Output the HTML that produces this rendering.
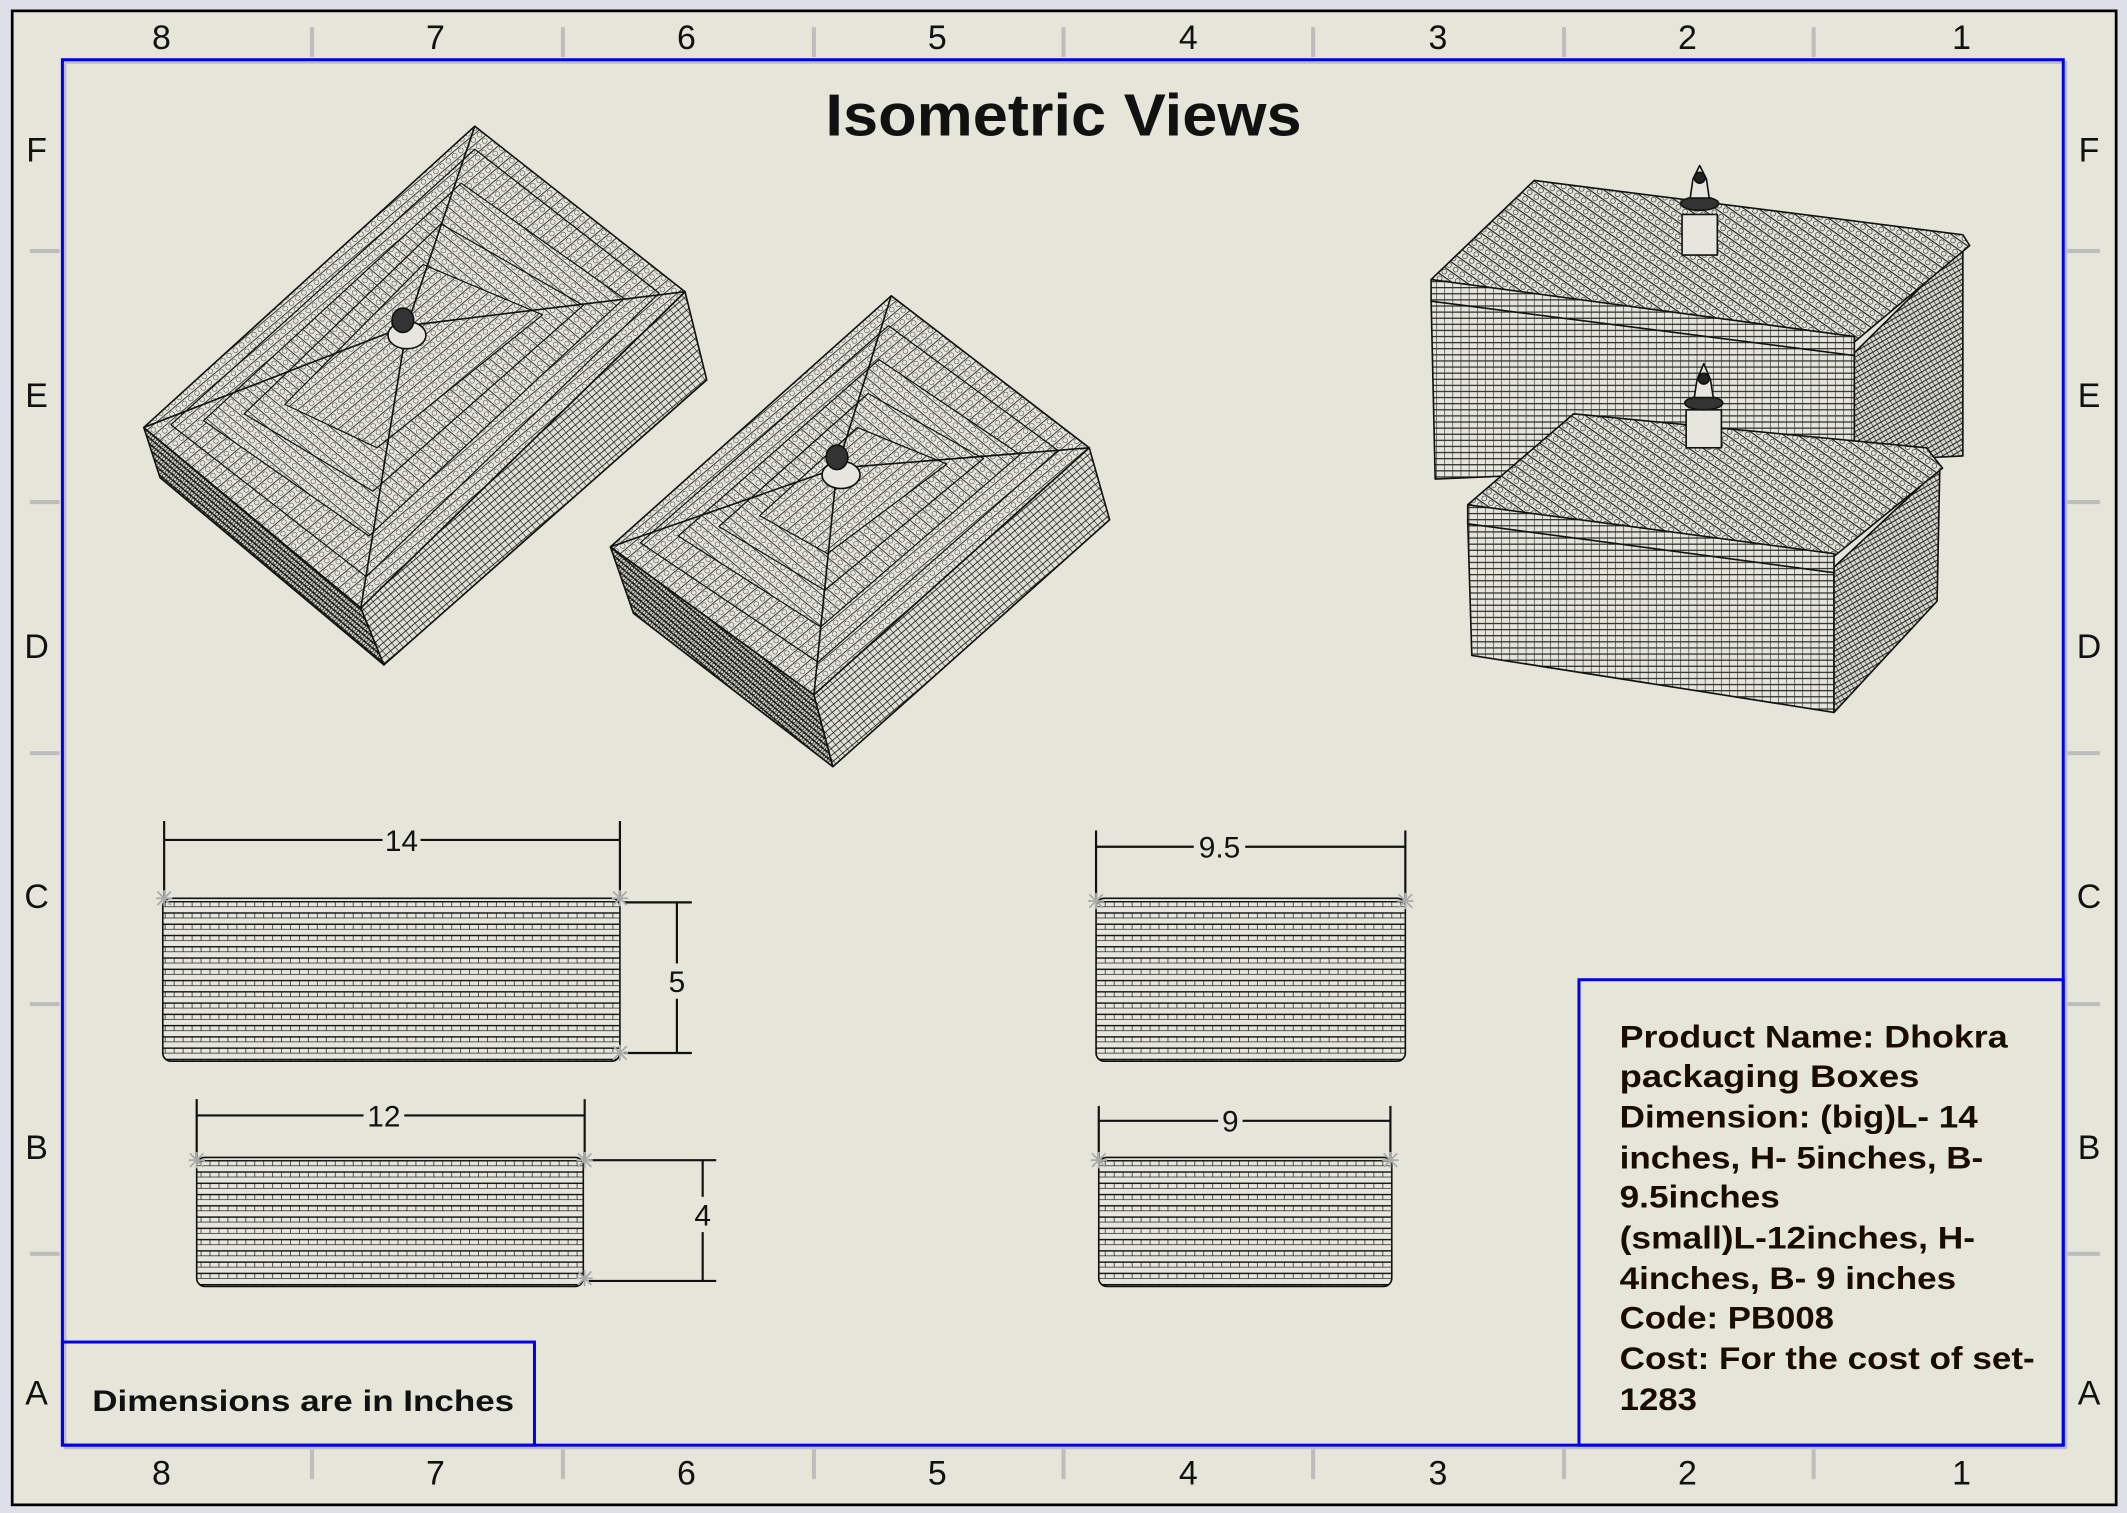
<!DOCTYPE html>
<html><head><meta charset="utf-8"><style>
html,body{margin:0;padding:0;background:#dde0e8;}
svg{display:block;}
text{font-family:"Liberation Sans",sans-serif;}
</style></head><body>
<svg width="2127" height="1513" viewBox="0 0 1568 1115" preserveAspectRatio="none" xmlns="http://www.w3.org/2000/svg">
<defs>
<pattern id="hz" width="6.6" height="8.3" patternUnits="userSpaceOnUse">
<rect width="6.6" height="8.3" fill="#e6e6dc"/>
<line x1="0" y1="0.5" x2="6.6" y2="0.5" stroke="#111" stroke-width="1.1"/>
<line x1="0" y1="4.2" x2="6.6" y2="4.2" stroke="#111" stroke-width="0.5"/>
<line x1="3" y1="0" x2="3" y2="4.2" stroke="#111" stroke-width="0.5"/>
</pattern>
<pattern id="lidA" width="6" height="6" patternUnits="userSpaceOnUse" patternTransform="rotate(-40)">
<rect width="6" height="6" fill="#e6e6dc"/>
<line x1="0" y1="0.5" x2="6" y2="0.5" stroke="#111" stroke-width="0.6"/>
<circle cx="3" cy="3.3" r="1.8" fill="none" stroke="#111" stroke-width="0.35"/>
</pattern>
<pattern id="lidB" width="6" height="6" patternUnits="userSpaceOnUse" patternTransform="rotate(40)">
<rect width="6" height="6" fill="#e6e6dc"/>
<line x1="0" y1="0.5" x2="6" y2="0.5" stroke="#111" stroke-width="0.6"/>
<circle cx="3" cy="3.3" r="1.8" fill="none" stroke="#111" stroke-width="0.35"/>
</pattern>
<pattern id="sideA" width="4.5" height="4" patternUnits="userSpaceOnUse" patternTransform="rotate(-40)">
<rect width="4.5" height="4" fill="#e0e0d6"/>
<line x1="0" y1="0.5" x2="4.5" y2="0.5" stroke="#111" stroke-width="0.6"/>
<line x1="2.2" y1="0" x2="2.2" y2="4" stroke="#111" stroke-width="0.4"/>
</pattern>
<pattern id="sideB" width="4" height="3.2" patternUnits="userSpaceOnUse" patternTransform="rotate(40)">
<rect width="4" height="3.2" fill="#d4d4ca"/>
<line x1="0" y1="0.5" x2="4" y2="0.5" stroke="#111" stroke-width="0.9"/>
<circle cx="2" cy="2" r="1.2" fill="none" stroke="#111" stroke-width="0.5"/>
</pattern>
<pattern id="wall" width="6" height="4.5" patternUnits="userSpaceOnUse">
<rect width="6" height="4.5" fill="#e4e4da"/>
<line x1="0" y1="0.5" x2="6" y2="0.5" stroke="#111" stroke-width="0.8"/>
<line x1="3" y1="0.5" x2="3" y2="4.5" stroke="#111" stroke-width="0.4"/>
</pattern>
<pattern id="wallR" width="3.4" height="3.4" patternUnits="userSpaceOnUse" patternTransform="rotate(-30)">
<rect width="3.4" height="3.4" fill="#d6d6cc"/>
<line x1="0" y1="0.5" x2="3.4" y2="0.5" stroke="#111" stroke-width="0.7"/>
<line x1="1.7" y1="0" x2="1.7" y2="3.4" stroke="#111" stroke-width="0.4"/>
</pattern>
<pattern id="lidR" width="6" height="6" patternUnits="userSpaceOnUse" patternTransform="rotate(35)">
<rect width="6" height="6" fill="#e4e4da"/>
<line x1="0" y1="0.5" x2="6" y2="0.5" stroke="#111" stroke-width="0.8"/>
<circle cx="3" cy="3.3" r="1.8" fill="none" stroke="#111" stroke-width="0.4"/>
</pattern>
</defs>

<rect x="0" y="0" width="1568" height="1115" fill="#dde0e8"/>
<rect x="9" y="8" width="1551" height="1101" fill="#e5e5da" stroke="#000" stroke-width="2"/>
<g stroke="#bdbdbd" stroke-width="3">
<line x1="230" y1="20" x2="230" y2="42"/><line x1="415" y1="20" x2="415" y2="42"/><line x1="600" y1="20" x2="600" y2="42"/><line x1="784" y1="20" x2="784" y2="42"/><line x1="968" y1="20" x2="968" y2="42"/><line x1="1153" y1="20" x2="1153" y2="42"/><line x1="1337" y1="20" x2="1337" y2="42"/>
<line x1="230" y1="1068" x2="230" y2="1090"/><line x1="415" y1="1068" x2="415" y2="1090"/><line x1="600" y1="1068" x2="600" y2="1090"/><line x1="784" y1="1068" x2="784" y2="1090"/><line x1="968" y1="1068" x2="968" y2="1090"/><line x1="1153" y1="1068" x2="1153" y2="1090"/><line x1="1337" y1="1068" x2="1337" y2="1090"/>
<line x1="22" y1="185" x2="44" y2="185"/><line x1="22" y1="370" x2="44" y2="370"/><line x1="22" y1="555" x2="44" y2="555"/><line x1="22" y1="740" x2="44" y2="740"/><line x1="22" y1="924" x2="44" y2="924"/>
<line x1="1524" y1="185" x2="1548" y2="185"/><line x1="1524" y1="370" x2="1548" y2="370"/><line x1="1524" y1="555" x2="1548" y2="555"/><line x1="1524" y1="740" x2="1548" y2="740"/><line x1="1524" y1="924" x2="1548" y2="924"/>
</g>
<g font-size="25" fill="#111" text-anchor="middle">
<text x="119" y="36">8</text><text x="321" y="36">7</text><text x="506" y="36">6</text><text x="691" y="36">5</text><text x="876" y="36">4</text><text x="1060" y="36">3</text><text x="1244" y="36">2</text><text x="1446" y="36">1</text>
<text x="119" y="1094">8</text><text x="321" y="1094">7</text><text x="506" y="1094">6</text><text x="691" y="1094">5</text><text x="876" y="1094">4</text><text x="1060" y="1094">3</text><text x="1244" y="1094">2</text><text x="1446" y="1094">1</text>
<text x="27" y="119">F</text><text x="27" y="300">E</text><text x="27" y="485">D</text><text x="27" y="669">C</text><text x="27" y="854">B</text><text x="27" y="1035">A</text>
<text x="1540" y="119">F</text><text x="1540" y="300">E</text><text x="1540" y="485">D</text><text x="1540" y="669">C</text><text x="1540" y="854">B</text><text x="1540" y="1035">A</text>
</g>
<rect x="48" y="46" width="1475" height="1021" fill="none" stroke="#bdbdbd" stroke-width="2"/>
<rect x="46" y="44" width="1475" height="1021" fill="none" stroke="#0000ee" stroke-width="2.2"/>

<text x="784" y="100" font-size="44" font-weight="bold" text-anchor="middle" fill="#111" textLength="351" lengthAdjust="spacingAndGlyphs">Isometric Views</text>

<g stroke="#111" stroke-width="1.2" stroke-linejoin="round">
<polygon points="106,315 266,448 283,490 118,352" fill="url(#sideB)"/>
<polygon points="266,448 505,215 521,280 283,490" fill="url(#sideA)"/>
<polygon points="350,93 505,215 266,448 106,315" fill="url(#lidA)"/>
<polygon points="350,110 486,216 270,425 126,313" fill="none" stroke-width="0.9"/>
<polygon points="340,135 460,220 272,395 150,310" fill="url(#lidB)" stroke-width="0.9"/>
<polygon points="325,165 430,225 275,362 180,305" fill="none" stroke-width="0.9"/>
<polygon points="312,195 400,232 278,330 210,298" fill="url(#lidA)" stroke-width="0.9"/>
<line x1="350" y1="93" x2="300" y2="240"/><line x1="505" y1="215" x2="300" y2="240"/><line x1="266" y1="448" x2="300" y2="240"/><line x1="106" y1="315" x2="300" y2="240"/>
<ellipse cx="300" cy="247" rx="14" ry="10" fill="#e6e6dc"/>
<ellipse cx="297" cy="236" rx="8" ry="9" fill="#333"/>
</g>
<g stroke="#111" stroke-width="1.2" stroke-linejoin="round">
<polygon points="450,403 600,512 614,565 467,452" fill="url(#sideB)"/>
<polygon points="600,512 803,330 818,383 614,565" fill="url(#sideA)"/>
<polygon points="657,218 803,330 600,512 450,403" fill="url(#lidA)"/>
<polygon points="655,240 780,332 603,488 472,400" fill="none" stroke-width="0.9"/>
<polygon points="648,265 752,335 605,462 500,395" fill="url(#lidB)" stroke-width="0.9"/>
<polygon points="640,290 725,338 608,435 530,388" fill="none" stroke-width="0.9"/>
<polygon points="632,315 698,342 610,408 560,380" fill="url(#lidA)" stroke-width="0.9"/>
<line x1="657" y1="218" x2="617" y2="345"/><line x1="803" y1="330" x2="617" y2="345"/><line x1="600" y1="512" x2="617" y2="345"/><line x1="450" y1="403" x2="617" y2="345"/>
<ellipse cx="620" cy="350" rx="14" ry="10" fill="#e6e6dc"/>
<ellipse cx="617" cy="337" rx="8" ry="9" fill="#333"/>
</g>

<g stroke="#111" stroke-width="1.2" stroke-linejoin="round">
<polygon points="1055,221 1367,260 1367,340 1058,353" fill="url(#wall)"/>
<polygon points="1367,260 1447,181 1447,336 1367,340" fill="url(#wallR)"/>
<polygon points="1055,206 1131,133 1447,173 1452,181 1367,252 1058,216" fill="url(#lidR)"/>
<polygon points="1055,206 1367,248 1367,262 1055,222" fill="url(#wall)"/>
<rect x="1240" y="158" width="26" height="30" fill="#e6e6dc"/>
<ellipse cx="1253" cy="150" rx="14" ry="5" fill="#333"/>
<path d="M1246,146 L1248,132 L1253,122 L1258,132 L1260,146 Z" fill="#e6e6dc"/>
<circle cx="1253" cy="131" r="4" fill="#222"/>
</g>
<g stroke="#111" stroke-width="1.2" stroke-linejoin="round">
<polygon points="1082,384 1352,418 1352,525 1085,483" fill="url(#wall)"/>
<polygon points="1352,418 1430,345 1428,443 1352,525" fill="url(#wallR)"/>
<polygon points="1082,372 1160,305 1420,330 1432,345 1352,410 1085,380" fill="url(#lidR)"/>
<polygon points="1082,372 1352,408 1352,422 1082,386" fill="url(#wall)"/>
<rect x="1243" y="302" width="26" height="28" fill="#e6e6dc"/>
<ellipse cx="1256" cy="297" rx="14" ry="5" fill="#333"/>
<path d="M1249,293 L1251,280 L1256,268 L1261,280 L1263,293 Z" fill="#e6e6dc"/>
<circle cx="1256" cy="279" r="4" fill="#222"/>
</g>

<g stroke="#111" stroke-width="1.2">
<rect x="120" y="662" width="337" height="120" rx="6" fill="url(#hz)"/>
<rect x="808" y="662" width="228" height="120" rx="6" fill="url(#hz)"/>
<rect x="145" y="853" width="285" height="95" rx="6" fill="url(#hz)"/>
<rect x="810" y="853" width="216" height="95" rx="6" fill="url(#hz)"/>
</g>
<g stroke="#111" stroke-width="1.6" fill="none">
<line x1="121" y1="605" x2="121" y2="662"/><line x1="457" y1="605" x2="457" y2="662"/>
<line x1="121" y1="619" x2="282" y2="619"/><line x1="310" y1="619" x2="457" y2="619"/>
<line x1="460" y1="665" x2="510" y2="665"/><line x1="460" y1="776" x2="510" y2="776"/>
<line x1="499" y1="665" x2="499" y2="710"/><line x1="499" y1="736" x2="499" y2="776"/>
<line x1="808" y1="612" x2="808" y2="662"/><line x1="1036" y1="612" x2="1036" y2="662"/>
<line x1="808" y1="624" x2="880" y2="624"/><line x1="918" y1="624" x2="1036" y2="624"/>
<line x1="145" y1="810" x2="145" y2="855"/><line x1="431" y1="810" x2="431" y2="855"/>
<line x1="145" y1="822" x2="268" y2="822"/><line x1="298" y1="822" x2="431" y2="822"/>
<line x1="434" y1="855" x2="528" y2="855"/><line x1="434" y1="944" x2="528" y2="944"/>
<line x1="518" y1="855" x2="518" y2="882"/><line x1="518" y1="908" x2="518" y2="944"/>
<line x1="810" y1="815" x2="810" y2="855"/><line x1="1025" y1="815" x2="1025" y2="855"/>
<line x1="810" y1="826" x2="898" y2="826"/><line x1="916" y1="826" x2="1025" y2="826"/>
</g>
<g fill="#111" font-size="22" text-anchor="middle">
<text x="296" y="627">14</text><text x="499" y="731">5</text><text x="899" y="632">9.5</text>
<text x="283" y="830">12</text><text x="518" y="903">4</text><text x="907" y="834">9</text>
</g>
<g stroke="#aaa" stroke-width="1.3">
<path d="M115,662 l12,0 M121,656 l0,12 M116,657 l10,10 M126,657 l-10,10"/>
<path d="M451,662 l12,0 M457,656 l0,12 M452,657 l10,10 M462,657 l-10,10"/>
<path d="M451,776 l12,0 M457,770 l0,12 M452,771 l10,10 M462,771 l-10,10"/>
<path d="M802,664 l12,0 M808,658 l0,12 M803,659 l10,10 M813,659 l-10,10"/>
<path d="M1030,664 l12,0 M1036,658 l0,12 M1031,659 l10,10 M1041,659 l-10,10"/>
<path d="M139,855 l12,0 M145,849 l0,12 M140,850 l10,10 M150,850 l-10,10"/>
<path d="M425,855 l12,0 M431,849 l0,12 M426,850 l10,10 M436,850 l-10,10"/>
<path d="M425,942 l12,0 M431,936 l0,12 M426,937 l10,10 M436,937 l-10,10"/>
<path d="M804,855 l12,0 M810,849 l0,12 M805,850 l10,10 M815,850 l-10,10"/>
<path d="M1019,855 l12,0 M1025,849 l0,12 M1020,850 l10,10 M1030,850 l-10,10"/>
</g>

<rect x="1164" y="722" width="357" height="343" fill="none" stroke="#0000ee" stroke-width="2.2"/>
<g font-size="23" font-weight="bold" fill="#1a0d00">
<text x="1194" y="772" textLength="286" lengthAdjust="spacingAndGlyphs">Product Name: Dhokra</text>
<text x="1194" y="801" textLength="221" lengthAdjust="spacingAndGlyphs">packaging Boxes</text>
<text x="1194" y="831" textLength="264" lengthAdjust="spacingAndGlyphs">Dimension: (big)L- 14</text>
<text x="1194" y="861" textLength="268" lengthAdjust="spacingAndGlyphs">inches, H- 5inches, B-</text>
<text x="1194" y="890" textLength="118" lengthAdjust="spacingAndGlyphs">9.5inches</text>
<text x="1194" y="920" textLength="262" lengthAdjust="spacingAndGlyphs">(small)L-12inches, H-</text>
<text x="1194" y="950" textLength="248" lengthAdjust="spacingAndGlyphs">4inches, B- 9 inches</text>
<text x="1194" y="979" textLength="158" lengthAdjust="spacingAndGlyphs">Code: PB008</text>
<text x="1194" y="1009" textLength="306" lengthAdjust="spacingAndGlyphs">Cost:  For the cost of set-</text>
<text x="1194" y="1039" textLength="57" lengthAdjust="spacingAndGlyphs">1283</text>
</g>
<rect x="46" y="989" width="348" height="76" fill="none" stroke="#0000ee" stroke-width="2.2"/>
<text x="68" y="1040" font-size="22" font-weight="bold" fill="#111" textLength="311" lengthAdjust="spacingAndGlyphs">Dimensions are in Inches</text>
</svg>
</body></html>
